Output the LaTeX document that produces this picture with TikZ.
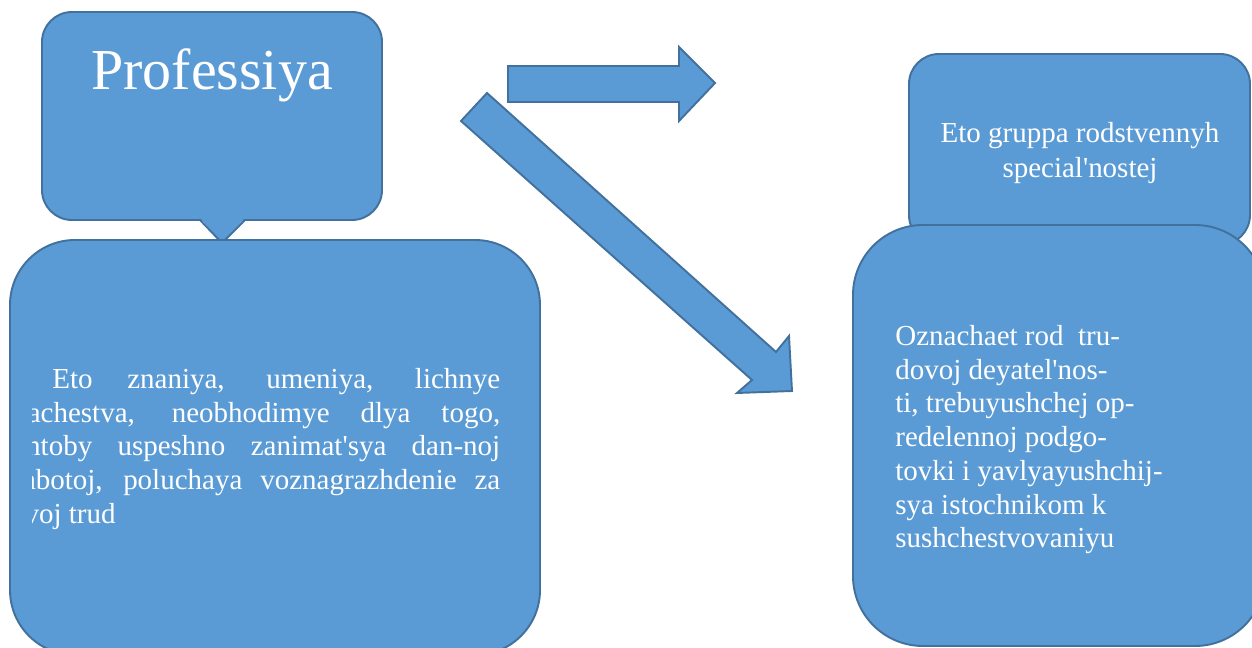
\documentclass[tikz,border=0pt]{standalone}
\usepackage{fontspec}
\setmainfont{Liberation Serif}[Ligatures=TeXOff]
\definecolor{boxfill}{HTML}{5B9BD5}
\definecolor{boxline}{HTML}{41719C}
\begin{document}
\begin{tikzpicture}[x=0.02cm,y=-0.02cm,
    blok/.style={fill=boxfill,draw=boxline,line width=1.1pt},
    tekst/.style={text=white,inner sep=0pt,font=\fontsize{16.5}{19.2}\selectfont}]
        \useasboundingbox (0,0) rectangle (1252,648);
        % callout
        \draw[blok, rounded corners=0.6cm] (42,12) rectangle (382,220);
        \fill[boxfill] (200,218) -- (222,243) -- (245,218) -- cycle;
        \draw[boxline, line width=1.1pt] (200,220) -- (222,243) -- (245,220);
        \node[tekst, anchor=base, font=\fontsize{33}{40}\selectfont] (prof) at (212,90) {Professiya};
        % left box
        \draw[blok, rounded corners=1.3cm] (10,240) rectangle (540,655);
        \begin{scope}
            \clip (32,240) rectangle (540,655);
            \node[tekst, anchor=north west, text width=9.74cm, align=justify] (znan) at (13,368)
                {\hyphenpenalty=10000\tolerance=10000\hspace*{0.78cm}Eto znaniya, umeniya, lichnye\linebreak kachestva, neobhodimye dlya togo,\linebreak chtoby uspeshno zanimat'sya dan-noj\linebreak rabotoj, poluchaya voznagrazhdenie za\linebreak svoj trud};
        \end{scope}
        % arrows
        \draw[blok] (508,66) -- (679,66) -- (679,47) -- (715,83) -- (679,121) -- (679,102) -- (508,102) -- cycle;
        \draw[blok] (487,93) -- (776,352) -- (789,336) -- (792,391) -- (737,393) -- (752,380) -- (461,121) -- cycle;
        % right boxes
        \draw[blok, rounded corners=0.6cm] (909,54) rectangle (1250,245);
        \node[tekst, align=center, font=\fontsize{16.5}{20.4}\selectfont] (gruppa) at (1080,153)
            {Eto gruppa rodstvennyh\\special'nostej};
        \draw[blok, rounded corners=1.4cm] (853,225) rectangle (1265,646);
        \node[tekst, anchor=north west, align=left] (rod) at (895,325)
            {Oznachaet rod\ \ tru-\\dovoj deyatel'nos-\\ti, trebuyushchej op-\\redelennoj podgo-\\tovki i yavlyayushchij-\\sya istochnikom k\\sushchestvovaniyu};
    \end{tikzpicture}
\end{document}
